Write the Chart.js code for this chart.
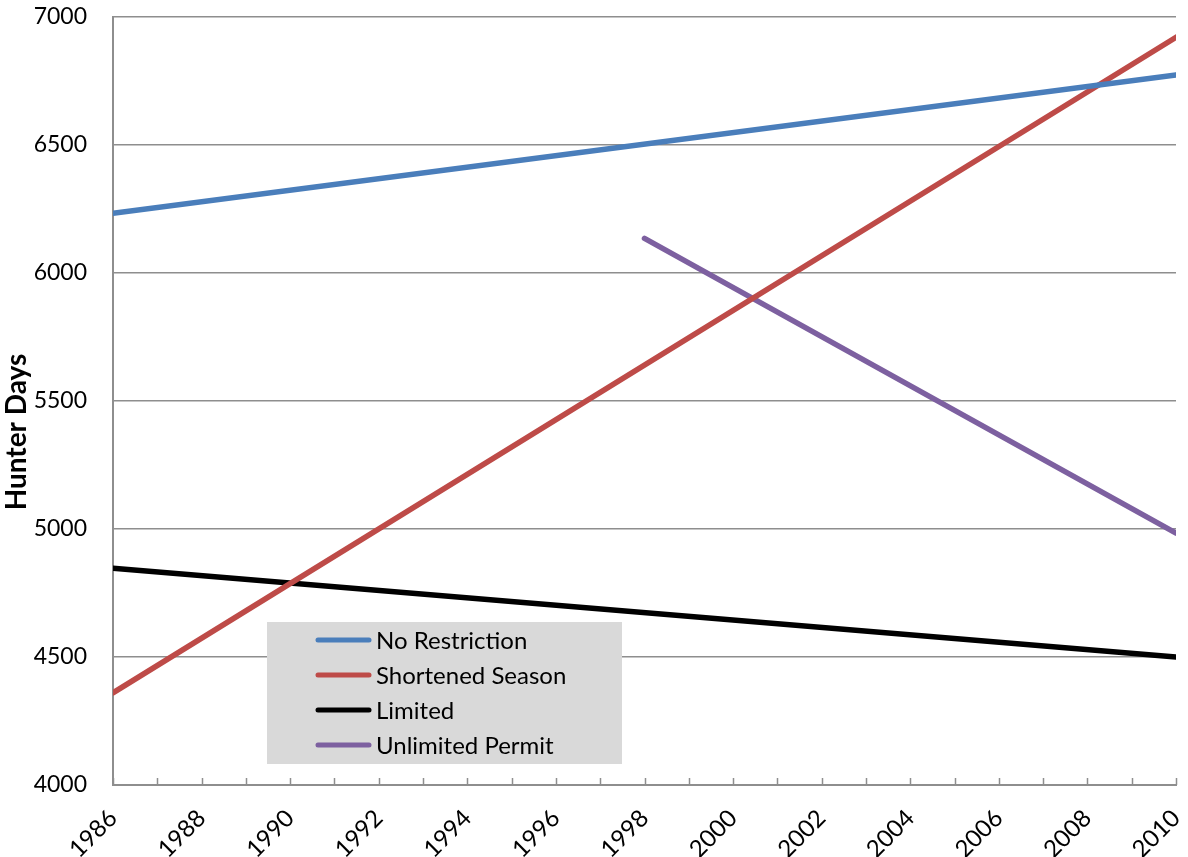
<!DOCTYPE html>
<html>
<head>
<meta charset="utf-8">
<title>Hunter Days</title>
<script src="https://cdn.jsdelivr.net/npm/chart.js@4.4.1/dist/chart.umd.min.js"></script>
<style>
    html, body { margin: 0; padding: 0; background: #ffffff; }
    #wrap { width: 1188px; height: 857px; position: relative; }
</style>
</head>
<body>
<div id="wrap"><canvas id="chart"></canvas></div>
<script>
// Data (straight trend lines, endpoints only)
const years = [1986, 2010];
const noRestriction = [6233, 6774];
const shortenedSeason = [4360, 6921];
const limited = [4847, 4500];
const permitYears = [1998, 2010];
const unlimitedPermit = [6135, 4984];

const seriesNames = ['No Restriction', 'Shortened Season', 'Limited', 'Unlimited Permit'];
const seriesColors = ['#4a7ebb', '#be4b48', '#000000', '#7d60a0'];

const yTicks = [4000, 4500, 5000, 5500, 6000, 6500, 7000];
const xMin = 1986;
const xMax = 2010;

const FONT = 'Lato, "Open Sans", sans-serif';
const GRID = '#8e8e8e';

function toPoints(xs, ys) {
    return xs.map((x, i) => ({ x: x, y: ys[i] }));
}

// Small upward tick marks on the x axis, a y title and the boxed legend
const extras = {
    id: 'extras',
    afterDraw(chart) {
        const ctx = chart.ctx;
        const xs = chart.scales.x;
        const area = chart.chartArea;

        ctx.save();
        ctx.strokeStyle = GRID;
        ctx.lineWidth = 1.5;
        xs.ticks.forEach(t => {
            const px = Math.round(xs.getPixelForValue(t.value)) + 0.5;
            ctx.beginPath();
            ctx.moveTo(px, area.bottom);
            ctx.lineTo(px, area.bottom - 7);
            ctx.stroke();
        });

        // axis title
        ctx.translate(17, 432);
        ctx.rotate(-Math.PI / 2);
        ctx.fillStyle = '#000';
        ctx.font = 'bold 28px ' + FONT;
        ctx.textAlign = 'center';
        ctx.textBaseline = 'middle';
        ctx.fillText('Hunter Days', 0, 0);
        ctx.restore();

        // legend box
        ctx.save();
        ctx.fillStyle = '#d9d9d9';
        ctx.fillRect(267, 622, 355, 142);
        ctx.font = '24px ' + FONT;
        ctx.textAlign = 'left';
        ctx.textBaseline = 'middle';
        seriesNames.forEach((name, i) => {
            const y = 640 + i * 35;
            ctx.strokeStyle = seriesColors[i];
            ctx.lineWidth = 5;
            ctx.lineCap = 'round';
            ctx.beginPath();
            ctx.moveTo(318, y);
            ctx.lineTo(369, y);
            ctx.stroke();
            ctx.fillStyle = '#000';
            ctx.fillText(name, 376, y + 1);
        });
        ctx.restore();
    }
};

const lineStyle = color => ({
    borderColor: color,
    backgroundColor: color,
    borderWidth: 5.5,
    borderCapStyle: 'round',
    pointRadius: 0,
    tension: 0,
    fill: false
});

const ctx = document.getElementById('chart').getContext('2d');
new Chart(ctx, {
    type: 'line',
    data: {
        datasets: [
            Object.assign({ label: seriesNames[0], data: toPoints(years, noRestriction) }, lineStyle(seriesColors[0])),
            Object.assign({ label: seriesNames[1], data: toPoints(years, shortenedSeason) }, lineStyle(seriesColors[1])),
            Object.assign({ label: seriesNames[2], data: toPoints(years, limited) }, lineStyle(seriesColors[2])),
            Object.assign({ label: seriesNames[3], data: toPoints(permitYears, unlimitedPermit) }, lineStyle(seriesColors[3]))
        ]
    },
    options: {
        responsive: true,
        maintainAspectRatio: false,
        animation: false,
        events: [],
        layout: { padding: { left: 0, right: 12, top: 17, bottom: 0 } },
        plugins: {
            legend: { display: false },
            tooltip: { enabled: false }
        },
        scales: {
            x: {
                type: 'linear',
                min: xMin,
                max: xMax,
                afterFit: scale => {
                    scale.height = 72;
                    scale.paddingLeft = 0;
                    scale.paddingRight = 0;
                },
                grid: { drawOnChartArea: false, drawTicks: false },
                border: { color: GRID, width: 2 },
                ticks: {
                    stepSize: 1,
                    autoSkip: false,
                    minRotation: 45,
                    maxRotation: 45,
                    padding: 19,
                    color: '#000',
                    font: { family: FONT, size: 24 },
                    callback: v => (v % 2 === 0 ? String(v) : '')
                }
            },
            y: {
                min: yTicks[0],
                max: yTicks[yTicks.length - 1],
                afterFit: scale => {
                    scale.width = 113;
                    scale.paddingTop = 0;
                    scale.paddingBottom = 0;
                },
                afterBuildTicks: scale => { scale.ticks = yTicks.map(v => ({ value: v })); },
                grid: { color: GRID, lineWidth: 1.5, drawTicks: false },
                border: { color: GRID, width: 2 },
                ticks: {
                    padding: 26,
                    color: '#000',
                    font: { family: FONT, size: 23 },
                    callback: v => String(v)
                }
            }
        }
    },
    plugins: [extras]
});
</script>
</body>
</html>
